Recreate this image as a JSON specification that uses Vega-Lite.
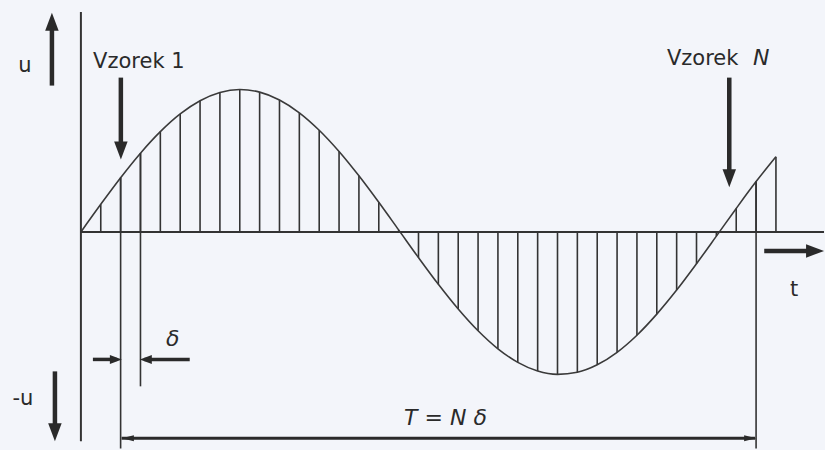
{
  "$schema": "https://vega.github.io/schema/vega-lite/v6.json",
  "width": 825,
  "height": 450,
  "autosize": {"type": "fit", "contains": "padding"},
  "padding": 0,
  "background": "#f3f5fa",
  "config": {"view": {"stroke": null}, "axis": {"domain": false}},
  "datasets": {
    "wave": [
      {"t": 0, "u": 0}, {"t": 1, "u": 0.1942}, {"t": 2, "u": 0.381}, {"t": 3, "u": 0.5533},
      {"t": 4, "u": 0.7043}, {"t": 5, "u": 0.8288}, {"t": 6, "u": 0.9215}, {"t": 7, "u": 0.9795},
      {"t": 8, "u": 1.0}, {"t": 9, "u": 0.9822}, {"t": 10, "u": 0.9272}, {"t": 11, "u": 0.8371},
      {"t": 12, "u": 0.7147}, {"t": 13, "u": 0.5655}, {"t": 14, "u": 0.3945}, {"t": 15, "u": 0.2086},
      {"t": 16, "u": 0.0147}, {"t": 17, "u": -0.1798}, {"t": 18, "u": -0.3674}, {"t": 19, "u": -0.5409},
      {"t": 20, "u": -0.694}, {"t": 21, "u": -0.8207}, {"t": 22, "u": -0.9157}, {"t": 23, "u": -0.9765},
      {"t": 24, "u": -0.9997}, {"t": 25, "u": -0.985}, {"t": 26, "u": -0.9327}, {"t": 27, "u": -0.845},
      {"t": 28, "u": -0.725}, {"t": 29, "u": -0.577}, {"t": 30, "u": -0.4082}, {"t": 31, "u": -0.2227},
      {"t": 32, "u": -0.0293}, {"t": 33, "u": 0.1653}, {"t": 34, "u": 0.3537}, {"t": 35, "u": 0.5287}
    ],
    "segs": [
      {"kind": "axis", "t": 0, "u": 1.545, "t2": 0, "u2": -1.469},
      {"kind": "axis", "t": 0, "u": 0, "t2": 37.42, "u2": 0},
      {"kind": "long", "t": 2, "u": 0.381, "t2": 2, "u2": -1.52},
      {"kind": "long", "t": 3, "u": 0.5533, "t2": 3, "u2": -1.084},
      {"kind": "long", "t": 34, "u": 0.3537, "t2": 34, "u2": -1.52},
      {"kind": "shaft", "t": -1.459, "u": 1.028, "t2": -1.459, "u2": 1.46},
      {"kind": "shaft", "t": -1.308, "u": -0.979, "t2": -1.308, "u2": -1.39},
      {"kind": "shaft", "t": 2.012, "u": 1.084, "t2": 2.012, "u2": 0.59},
      {"kind": "shaft", "t": 32.65, "u": 1.084, "t2": 32.65, "u2": 0.39},
      {"kind": "shaft", "t": 34.41, "u": -0.133, "t2": 36.9, "u2": -0.133},
      {"kind": "dshaft", "t": 0.604, "u": -0.895, "t2": 1.8, "u2": -0.895},
      {"kind": "dshaft", "t": 3.2, "u": -0.895, "t2": 5.48, "u2": -0.895},
      {"kind": "dim", "t": 2.05, "u": -1.448, "t2": 33.95, "u2": -1.448}
    ],
    "heads": [
      {"dir": "up", "t": -1.459, "u": 1.4755},
      {"dir": "down", "t": -1.308, "u": -1.406},
      {"dir": "down", "t": 2.012, "u": 0.573},
      {"dir": "down", "t": 32.65, "u": 0.378},
      {"dir": "right", "t": 36.97, "u": -0.133}
    ],
    "smallheads": [
      {"dir": "right", "t": 1.761, "u": -0.895},
      {"dir": "left", "t": 3.27, "u": -0.895}
    ],
    "dimheads": [
      {"dir": "left", "t": 2.364, "u": -1.448},
      {"dir": "right", "t": 33.7, "u": -1.448}
    ],
    "labels": [
      {"kind": "normal", "text": "u", "t": -2.817, "u": 1.126},
      {"kind": "normal", "text": "-u", "t": -2.92, "u": -1.217},
      {"kind": "normal", "text": "Vzorek 1", "t": 2.918, "u": 1.154},
      {"kind": "normal", "text": "Vzorek", "t": 31.31, "u": 1.175},
      {"kind": "normal", "text": "t", "t": 35.92, "u": -0.448},
      {"kind": "italic", "text": "N", "t": 34.26, "u": 1.175},
      {"kind": "italic", "text": "δ", "t": 4.63, "u": -0.804},
      {"kind": "italic", "text": "T = N δ", "t": 18.36, "u": -1.357}
    ]
  },
  "encoding": {
    "x": {"field": "t", "type": "quantitative", "scale": {"domain": [-4.074, 37.42], "nice": false, "zero": false}, "axis": null},
    "y": {"field": "u", "type": "quantitative", "scale": {"domain": [-1.517, 1.629], "nice": false, "zero": false}, "axis": null}
  },
  "layer": [
    {
      "data": {"name": "wave"},
      "transform": [{"filter": "datum.t > 0"}],
      "mark": {"type": "rule", "color": "#333333", "strokeWidth": 1.6},
      "encoding": {"y2": {"datum": 0}}
    },
    {
      "data": {"name": "wave"},
      "mark": {"type": "line", "color": "#3a3a3a", "strokeWidth": 1.6, "interpolate": "monotone"},
      "encoding": {}
    },
    {
      "data": {"name": "segs"},
      "transform": [{"filter": "datum.kind === 'axis'"}],
      "mark": {"type": "rule", "color": "#333333", "strokeWidth": 2},
      "encoding": {"x2": {"field": "t2"}, "y2": {"field": "u2"}}
    },
    {
      "data": {"name": "segs"},
      "transform": [{"filter": "datum.kind === 'long'"}],
      "mark": {"type": "rule", "color": "#333333", "strokeWidth": 1.6},
      "encoding": {"x2": {"field": "t2"}, "y2": {"field": "u2"}}
    },
    {
      "data": {"name": "segs"},
      "transform": [{"filter": "datum.kind === 'shaft'"}],
      "mark": {"type": "rule", "color": "#2a2a2a", "strokeWidth": 4.5},
      "encoding": {"x2": {"field": "t2"}, "y2": {"field": "u2"}}
    },
    {
      "data": {"name": "segs"},
      "transform": [{"filter": "datum.kind === 'dshaft'"}],
      "mark": {"type": "rule", "color": "#2a2a2a", "strokeWidth": 3.5},
      "encoding": {"x2": {"field": "t2"}, "y2": {"field": "u2"}}
    },
    {
      "data": {"name": "segs"},
      "transform": [{"filter": "datum.kind === 'dim'"}],
      "mark": {"type": "rule", "color": "#2a2a2a", "strokeWidth": 3},
      "encoding": {"x2": {"field": "t2"}, "y2": {"field": "u2"}}
    },
    {
      "data": {"name": "heads"},
      "transform": [{"filter": "datum.dir === 'up'"}],
      "mark": {"type": "point", "shape": "M-0.75,1L0.75,1L0,-1Z", "size": 324, "filled": true, "color": "#2a2a2a", "opacity": 1},
      "encoding": {}
    },
    {
      "data": {"name": "heads"},
      "transform": [{"filter": "datum.dir === 'down'"}],
      "mark": {"type": "point", "shape": "M-0.75,-1L0.75,-1L0,1Z", "size": 324, "filled": true, "color": "#2a2a2a", "opacity": 1},
      "encoding": {}
    },
    {
      "data": {"name": "heads"},
      "transform": [{"filter": "datum.dir === 'right'"}],
      "mark": {"type": "point", "shape": "M-1,-0.75L-1,0.75L1,0Z", "size": 324, "filled": true, "color": "#2a2a2a", "opacity": 1},
      "encoding": {}
    },
    {
      "data": {"name": "smallheads"},
      "transform": [{"filter": "datum.dir === 'right'"}],
      "mark": {"type": "point", "shape": "M-1,-0.75L-1,0.75L1,0Z", "size": 144, "filled": true, "color": "#2a2a2a", "opacity": 1},
      "encoding": {}
    },
    {
      "data": {"name": "smallheads"},
      "transform": [{"filter": "datum.dir === 'left'"}],
      "mark": {"type": "point", "shape": "M1,-0.75L1,0.75L-1,0Z", "size": 144, "filled": true, "color": "#2a2a2a", "opacity": 1},
      "encoding": {}
    },
    {
      "data": {"name": "dimheads"},
      "transform": [{"filter": "datum.dir === 'left'"}],
      "mark": {"type": "point", "shape": "M1,-0.5L1,0.5L-1,0Z", "size": 144, "filled": true, "color": "#2a2a2a", "opacity": 1},
      "encoding": {}
    },
    {
      "data": {"name": "dimheads"},
      "transform": [{"filter": "datum.dir === 'right'"}],
      "mark": {"type": "point", "shape": "M-1,-0.5L-1,0.5L1,0Z", "size": 144, "filled": true, "color": "#2a2a2a", "opacity": 1},
      "encoding": {}
    },
    {
      "data": {"name": "labels"},
      "transform": [{"filter": "datum.kind === 'normal'"}],
      "mark": {"type": "text", "font": "DejaVu Sans", "fontSize": 21, "color": "#2a2a2a", "align": "center", "baseline": "alphabetic"},
      "encoding": {"text": {"field": "text"}}
    },
    {
      "data": {"name": "labels"},
      "transform": [{"filter": "datum.kind === 'italic'"}],
      "mark": {"type": "text", "font": "DejaVu Sans", "fontStyle": "italic", "fontSize": 22, "color": "#2a2a2a", "align": "center", "baseline": "alphabetic"},
      "encoding": {"text": {"field": "text"}}
    }
  ]
}
